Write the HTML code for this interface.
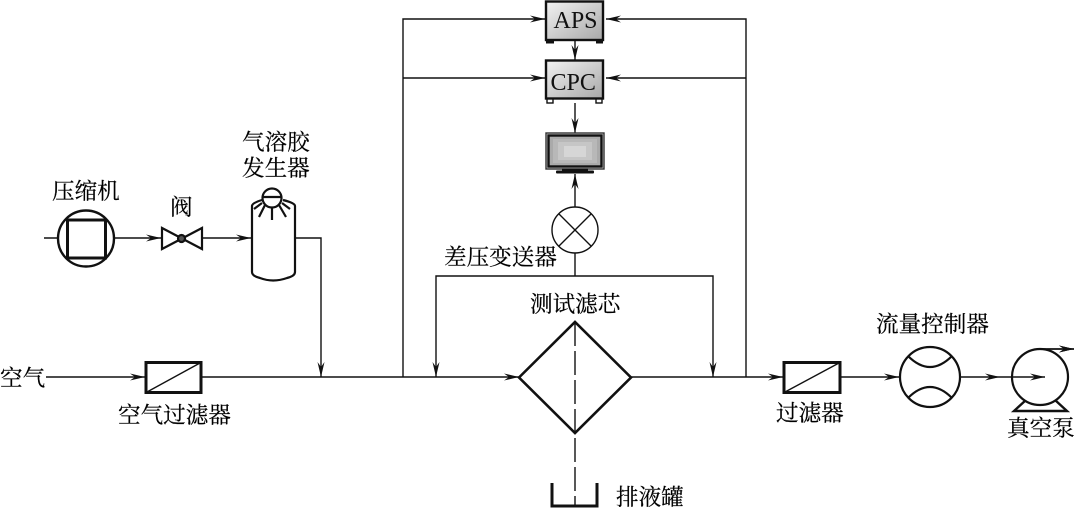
<!DOCTYPE html>
<html>
<head>
<meta charset="utf-8">
<style>
html,body{margin:0;padding:0;background:#fff;}
svg{display:block;}
.z{font-family:"Liberation Serif","Noto Serif CJK SC",serif;font-size:22.6px;fill:#000;stroke:#000;stroke-width:0.2px;}
.l{fill:none;stroke:#111;stroke-width:1.4;}
.h{fill:none;stroke:#111;stroke-width:3;}
.m{fill:none;stroke:#111;stroke-width:2.2;}
.e{font-family:"Liberation Serif",serif;font-size:24px;fill:#111;}
</style>
</head>
<body>
<svg width="1075" height="508" viewBox="0 0 1075 508" xmlns="http://www.w3.org/2000/svg">
<defs>
<linearGradient id="g" x1="0" y1="0" x2="1" y2="1">
<stop offset="0" stop-color="#f2f2f2"/>
<stop offset="1" stop-color="#a8a8a8"/>
</linearGradient>
<path id="ar" d="M0 0 L-15 -3.500 L-10 0 L-15 3.500 Z" fill="#111"/>
</defs>

<rect width="1075" height="508" fill="#fff"/>

<!-- main lines -->
<path class="l" d="M46 377H145M202 377H519M631 377H783M841 377H899M961 377H1012"/>
<path class="l" d="M403 377V19H545M403 78H545M746 377V19H606M746 78H606"/>
<path class="l" d="M575 41V60M575 103V133M575 174V207M575 253V276M436 377V276H713V377"/>
<path class="l" d="M44 238H57M115 238H161M202 238H251M295 238H321V377"/>
<path class="l" d="M1012 377H1045M1040 349H1074"/>

<!-- arrowheads -->
<use href="#ar" transform="translate(145,377)"/>
<use href="#ar" transform="translate(161,238)"/>
<use href="#ar" transform="translate(251,238)"/>
<use href="#ar" transform="translate(321,377) rotate(90)"/>
<use href="#ar" transform="translate(436,377) rotate(90)"/>
<use href="#ar" transform="translate(519,377)"/>
<use href="#ar" transform="translate(713,377) rotate(90)"/>
<use href="#ar" transform="translate(783,377)"/>
<use href="#ar" transform="translate(899,377)"/>
<use href="#ar" transform="translate(1000,377)"/>
<use href="#ar" transform="translate(1045,377)"/>
<use href="#ar" transform="translate(1074,349)"/>
<use href="#ar" transform="translate(545,19)"/>
<use href="#ar" transform="translate(545,78)"/>
<use href="#ar" transform="translate(606,19) rotate(180)"/>
<use href="#ar" transform="translate(606,78) rotate(180)"/>
<use href="#ar" transform="translate(575,60) rotate(90)"/>
<use href="#ar" transform="translate(575,133) rotate(90)"/>
<use href="#ar" transform="translate(575,174) rotate(-90)"/>

<!-- APS -->
<rect x="546" y="1.500" width="57" height="38.500" fill="url(#g)" stroke="#111" stroke-width="2.400"/>
<rect x="546" y="40" width="8" height="3.500" fill="#111"/>
<rect x="596" y="40" width="7" height="3.500" fill="#111"/>
<rect x="598.500" y="16" width="2" height="7" fill="#bbb"/>
<text class="e" x="553.500" y="28">APS</text>

<!-- CPC -->
<rect x="546" y="60.500" width="57" height="38" fill="url(#g)" stroke="#111" stroke-width="2.400"/>
<rect x="547" y="99" width="6" height="4" fill="#fff" stroke="#111" stroke-width="1.400"/>
<rect x="596" y="99" width="6" height="4" fill="#fff" stroke="#111" stroke-width="1.400"/>
<rect x="598.500" y="76" width="2" height="7" fill="#bbb"/>
<text class="e" x="550.500" y="90">CPC</text>

<!-- Monitor -->
<rect x="546" y="133" width="58" height="36" fill="#ddd" stroke="#333" stroke-width="1.400"/>
<rect x="548.500" y="135.500" width="53" height="31" fill="#aaa" stroke="#111" stroke-width="2.400"/>
<rect x="553" y="139" width="44" height="24" fill="#b8b8b8"/>
<rect x="558" y="142" width="34" height="18" fill="#c6c6c6"/>
<rect x="564" y="146" width="22" height="11" fill="#d6d6d6"/>
<rect x="556" y="170.500" width="38" height="3" rx="1" fill="#111"/>
<rect x="562" y="168.500" width="26" height="2" fill="#111"/>

<!-- Compressor -->
<circle cx="86" cy="238.500" r="28" fill="#fff" stroke="#111" stroke-width="2.400"/>
<rect x="67.500" y="220" width="38" height="38" fill="none" stroke="#111" stroke-width="3"/>

<!-- Valve -->
<path d="M162 228 V249 L202 228 V249 Z" fill="#fff" stroke="#111" stroke-width="2.200"/>
<circle cx="181.500" cy="238.500" r="3.500" fill="#555" stroke="#111" stroke-width="2.200"/>

<!-- Aerosol generator -->
<path d="M262 200 Q252 203 252 206 V272 Q252 276 260 278 Q273 283 287 278 Q295 276 295 272 V206 Q295 203 283 200" fill="#fff" stroke="#111" stroke-width="2.200"/>
<circle cx="272" cy="198" r="9.500" fill="#fff" stroke="#111" stroke-width="2.200"/>
<path class="m" d="M263 197H281M272 208V220M265 205L259 217M279 205L286 217M262 203L254 209M282 203L290 209"/>

<!-- Filters -->
<rect x="146" y="362.500" width="55" height="30" fill="#fff" stroke="#111" stroke-width="3"/>
<path class="l" d="M147 392L200 363"/>
<rect x="784" y="362.500" width="56" height="30" fill="#fff" stroke="#111" stroke-width="3"/>
<path class="l" d="M785 392L839 363"/>

<!-- Diamond -->
<path d="M519 377.500 L575 322 L631 377.500 L575 433 Z" fill="#fff" stroke="#111" stroke-width="2.600"/>
<path class="l" d="M575 322V505" stroke-dasharray="24 5"/>

<!-- Tank -->
<path class="h" d="M552 483V506H597V483"/>

<!-- Diff pressure gauge -->
<circle cx="575" cy="230" r="23" fill="#fff" stroke="#111" stroke-width="1.400"/>
<path class="l" d="M559 214L591 246M591 214L559 246"/>

<!-- Flow controller -->
<circle cx="930" cy="377" r="30" fill="#fff" stroke="#111" stroke-width="2.200"/>
<path class="m" d="M908 356Q930 378 952 356M908 398Q930 376 952 398"/>

<!-- Pump -->
<path d="M1026 400L1014 411H1067L1055 400" fill="#fff" stroke="#111" stroke-width="2.400"/>
<circle cx="1040" cy="377" r="28" fill="#fff" stroke="#111" stroke-width="2.200"/>
<path class="l" d="M1012 377H1045M1040 349H1074"/>
<use href="#ar" transform="translate(1045,377)"/>
<use href="#ar" transform="translate(1074,349)"/>

<!-- Labels -->
<text class="z" x="52" y="199">压缩机</text>
<text class="z" x="170" y="215">阀</text>
<text class="z" x="242" y="150">气溶胶</text>
<text class="z" x="242" y="176">发生器</text>
<text class="z" x="0" y="386">空气</text>
<text class="z" x="118" y="423">空气过滤器</text>
<text class="z" x="444" y="265">差压变送器</text>
<text class="z" x="530" y="312">测试滤芯</text>
<text class="z" x="616" y="505">排液罐</text>
<text class="z" x="776" y="421">过滤器</text>
<text class="z" x="876" y="332">流量控制器</text>
<text class="z" x="1007" y="436">真空泵</text>
</svg>
</body>
</html>
